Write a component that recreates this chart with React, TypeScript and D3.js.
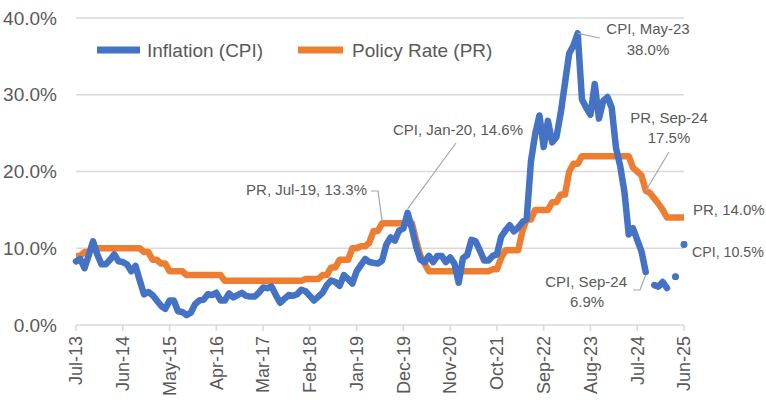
import React from "react";
import * as d3 from "d3";

// monthly, Jul-13 .. Jun-25
const startMonth = new Date(2013, 6, 1);
const tickLabels = ["Jul-13", "Jun-14", "May-15", "Apr-16", "Mar-17", "Feb-18", "Jan-19", "Dec-19", "Nov-20", "Oct-21", "Sep-22", "Aug-23", "Jul-24", "Jun-25"];
const yTicks = [0, 10, 20, 30, 40];

const cpi: (number | null)[] = [
  8.3, 8.6, 7.4, 9.1, 10.9, 9.2, 7.9, 7.9, 8.5, 9.2, 8.3, 8.2,
  7.9, 7.0, 7.7, 5.8, 4.0, 4.3, 3.9, 3.2, 2.5, 2.1, 3.2, 3.2,
  1.8, 1.7, 1.3, 1.6, 2.7, 3.2, 3.3, 4.0, 3.9, 4.2, 3.2, 3.2,
  4.1, 3.6, 3.9, 4.2, 3.8, 3.7, 3.7, 4.2, 4.9, 4.8, 5.0, 3.9,
  2.9, 3.4, 3.9, 3.8, 4.0, 4.6, 4.4, 3.8, 3.2, 3.7, 4.2, 5.2,
  5.8, 5.6, 5.1, 6.5, 6.0, 5.4, 7.0, 7.8, 8.6, 8.2, 8.1, 8.0,
  8.4, 10.5, 11.4, 11.0, 12.3, 12.6, 14.6, 12.6, 10.2, 8.5, 8.2, 9.0,
  8.2, 9.0, 9.0, 8.2, 8.8, 8.0, 5.5, 8.7, 9.1, 11.1, 10.9, 9.7,
  8.4, 8.4, 9.0, 9.2, 11.5, 12.3, 13.0, 12.2, 12.7, 13.4, 13.8, 21.3,
  24.9, 27.3, 23.2, 26.6, 23.8, 24.5, 27.6, 31.5, 35.4, 36.4, 38.0, 29.4,
  28.3, 27.4, 31.4, 26.9, 29.2, 29.7, 28.3, 23.1, 20.7, 17.3, 11.8, 12.6,
  11.1, 9.6, 6.9, null, 5.2, 5.0, 5.6, 4.8, null, 6.3, null, 10.5,
];

const policyRate: number[] = [
  9.0, 9.0, 9.5, 9.5, 10.0, 10.0, 10.0, 10.0, 10.0, 10.0, 10.0, 10.0,
  10.0, 10.0, 10.0, 10.0, 9.5, 9.5, 8.5, 8.5, 8.0, 8.0, 7.0, 7.0,
  7.0, 7.0, 6.5, 6.5, 6.5, 6.5, 6.5, 6.5, 6.5, 6.5, 6.5, 5.75,
  5.75, 5.75, 5.75, 5.75, 5.75, 5.75, 5.75, 5.75, 5.75, 5.75, 5.75, 5.75,
  5.75, 5.75, 5.75, 5.75, 5.75, 5.75, 6.0, 6.0, 6.0, 6.0, 6.5, 6.5,
  7.5, 7.5, 8.5, 8.5, 8.5, 10.0, 10.0, 10.25, 10.25, 10.75, 12.25, 12.25,
  13.25, 13.25, 13.25, 13.25, 13.25, 13.25, 13.25, 13.25, 11.0, 9.0, 8.0, 7.0,
  7.0, 7.0, 7.0, 7.0, 7.0, 7.0, 7.0, 7.0, 7.0, 7.0, 7.0, 7.0,
  7.0, 7.0, 7.25, 7.25, 8.75, 9.75, 9.75, 9.75, 9.75, 12.25, 13.75, 13.75,
  15.0, 15.0, 15.0, 15.0, 16.0, 16.0, 17.0, 17.0, 20.0, 21.0, 21.0, 22.0,
  22.0, 22.0, 22.0, 22.0, 22.0, 22.0, 22.0, 22.0, 22.0, 22.0, 22.0, 20.5,
  20.0, 19.5, 17.5, 17.2, 16.5, 15.8, 15.0, 14.0, 14.0, 14.0, 14.0, 14.0,
];

const BLUE = "#4472C4";
const ORANGE = "#ED7D31";
const TEXT = "#595959";
const GRID = "#D9D9D9";
const FONT = "'Liberation Sans', Arial, sans-serif";

export default function App() {
  const width = 766;
  const height = 403;
  const months = d3.timeMonth.range(startMonth, new Date(2025, 6, 1));
  const x = d3.scaleLinear().domain([0, months.length - 1]).range([76, 684]);
  const y = d3.scaleLinear().domain([0, 40]).range([325, 18]);

  const cpiLine = d3
    .line<number | null>()
    .defined((d) => d != null)
    .x((_, i) => x(i))
    .y((d) => y(d as number));
  const prLine = d3
    .line<number>()
    .x((_, i) => x(i))
    .y((d) => y(d));

  // isolated CPI points get a dot
  const lonely = cpi
    .map((v, i) => ({ v, i }))
    .filter(({ v, i }) => v != null && cpi[i - 1] == null && cpi[i + 1] == null);

  const leader = { stroke: "#A6A6A6", strokeWidth: 1.2, fill: "none" };
  const ann = { fontFamily: FONT, fontSize: 15, fill: TEXT };

  return (
    <svg width={width} height={height} style={{ position: "absolute", left: 0, top: 0, background: "#fff" }}>
      {yTicks.map((t) => (
        <g key={t}>
          <line x1={76} x2={684} y1={y(t)} y2={y(t)} stroke={GRID} strokeWidth={1.5} />
          <text x={57} y={y(t)} dy="0.35em" textAnchor="end" fontFamily={FONT} fontSize={19} fill={TEXT}>
            {t.toFixed(1)}%
          </text>
        </g>
      ))}
      {tickLabels.map((lab, k) => {
        const xi = x(k * 11);
        return (
          <g key={lab}>
            <line x1={xi} x2={xi} y1={325} y2={331} stroke={GRID} strokeWidth={1.5} />
            <text
              transform={`translate(${xi},336) rotate(-90)`}
              dy="0.35em"
              textAnchor="end"
              fontFamily={FONT}
              fontSize={18}
              fill={TEXT}
            >
              {lab}
            </text>
          </g>
        );
      })}

      <path d={prLine(policyRate) ?? ""} fill="none" stroke={ORANGE} strokeWidth={6.5} strokeLinejoin="round" />
      <path d={cpiLine(cpi) ?? ""} fill="none" stroke={BLUE} strokeWidth={6.5} strokeLinejoin="round" strokeLinecap="round" />
      {lonely.map(({ v, i }) => (
        <circle key={i} cx={x(i)} cy={y(v as number)} r={3.4} fill={BLUE} />
      ))}

      {/* legend */}
      <line x1={97} x2={140} y1={50} y2={50} stroke={BLUE} strokeWidth={7} />
      <text x={147} y={50} dy="0.35em" fontFamily={FONT} fontSize={19} fill={TEXT}>Inflation (CPI)</text>
      <line x1={298} x2={343} y1={50} y2={50} stroke={ORANGE} strokeWidth={7} />
      <text x={352} y={50} dy="0.35em" fontFamily={FONT} fontSize={19} fill={TEXT}>Policy Rate (PR)</text>

      {/* annotations */}
      <polyline points={`${x(118)},${y(38)} 600,38`} {...leader} />
      <text x={648} y={29} dy="0.35em" textAnchor="middle" {...ann}>CPI, May-23</text>
      <text x={648} y={50} dy="0.35em" textAnchor="middle" {...ann}>38.0%</text>

      <polyline points={`${x(78)},${y(14.6) - 4} 456,143`} {...leader} />
      <text x={458} y={130} dy="0.35em" textAnchor="middle" {...ann}>CPI, Jan-20, 14.6%</text>

      <polyline points={`371,191 378,191 ${x(72)},${y(13.25) - 2}`} {...leader} />
      <text x={367} y={190} dy="0.35em" textAnchor="end" {...ann}>PR, Jul-19, 13.3%</text>

      <polyline points={`${x(134)},${y(17.5)} 669,152`} {...leader} />
      <text x={669} y={118} dy="0.35em" textAnchor="middle" {...ann}>PR, Sep-24</text>
      <text x={669} y={138} dy="0.35em" textAnchor="middle" {...ann}>17.5%</text>

      <text x={693} y={210} dy="0.35em" {...ann}>PR, 14.0%</text>
      <text x={692} y={252} dy="0.35em" {...ann} fontSize={14.2}>CPI, 10.5%</text>

      <polyline points={`${x(134)},${y(6.9) + 3} 640,290 633,290`} {...leader} />
      <text x={627} y={282} dy="0.35em" textAnchor="end" {...ann}>CPI, Sep-24</text>
      <text x={587} y={302} dy="0.35em" textAnchor="middle" {...ann}>6.9%</text>
    </svg>
  );
}
